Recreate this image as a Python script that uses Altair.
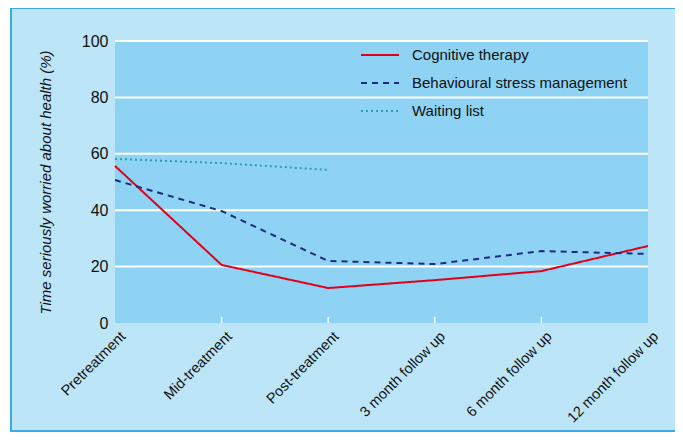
import altair as alt
import pandas as pd

timepoints = ["Pretreatment", "Mid-treatment", "Post-treatment",
              "3 month follow up", "6 month follow up", "12 month follow up"]
series_names = ["Cognitive therapy", "Behavioural stress management", "Waiting list"]
cognitive = [55.7, 20.6, 12.4, 15.2, 18.4, 27.3]
behavioural = [50.7, 39.7, 22.0, 20.9, 25.5, 24.5]
waiting = [58.2, 56.7, 54.3]
grid_values = [20, 40, 60, 80, 100]
tick_points = ["Mid-treatment", "Post-treatment", "3 month follow up", "6 month follow up"]

rows = []
for name, vals in zip(series_names, [cognitive, behavioural, waiting]):
    for t, v in zip(timepoints, vals):
        rows.append({"time": t, "value": v, "series": name})
df = pd.DataFrame(rows)

W, H = 533, 282
FONT = "Liberation Sans"

x_scale = alt.Scale(type="point", domain=timepoints, padding=0)
y_scale = alt.Scale(domain=[0, 100])

frame = alt.Chart(pd.DataFrame({"a": [0]})).mark_rect(
    fill="#bde5f8", stroke="#39a9e8", strokeWidth=2
).encode(x=alt.value(-104), x2=alt.value(563), y=alt.value(-33), y2=alt.value(390))

plotbg = alt.Chart(pd.DataFrame({"a": [0]})).mark_rect(fill="#8fd3f4").encode(
    x=alt.value(0), x2=alt.value(W), y=alt.value(0), y2=alt.value(H))

grid = alt.Chart(pd.DataFrame({"g": grid_values})).mark_rule(
    color="white", strokeWidth=2
).encode(y=alt.Y("g:Q", scale=y_scale), x=alt.value(0), x2=alt.value(W))

ticks = alt.Chart(pd.DataFrame({"time": tick_points})).mark_rule(
    color="white", strokeWidth=1.5
).encode(x=alt.X("time:N", scale=x_scale), y=alt.value(H - 6), y2=alt.value(H))

legend_opts = dict(title=None, orient="none", legendX=245, legendY=5,
                   symbolType="stroke", symbolSize=1444, symbolStrokeWidth=2,
                   labelFontSize=15, labelFont=FONT, labelColor="#111",
                   rowPadding=10, clipHeight=18, labelOffset=12, labelLimit=400)

lines = alt.Chart(df).mark_line(strokeWidth=2).encode(
    x=alt.X("time:N", scale=x_scale, sort=timepoints,
            axis=alt.Axis(title=None, labelAngle=-45, labelAlign="right",
                          labelBaseline="top", labelFontSize=14.5, labelFont=FONT,
                          labelColor="#111", domain=False, ticks=False, grid=False,
                          labelPadding=6, labelOffset=3, zindex=1)),
    y=alt.Y("value:Q", scale=y_scale,
            axis=alt.Axis(title="Time seriously worried about health (%)",
                          titleFont=FONT, titleFontStyle="italic",
                          titleFontWeight="normal", titleFontSize=15, titleColor="#111",
                          titlePadding=28,
                          values=[0, 20, 40, 60, 80, 100], labelFontSize=16,
                          labelFont=FONT, labelColor="#111", domain=False,
                          ticks=False, grid=False, labelPadding=7, zindex=1)),
    color=alt.Color("series:N",
                    scale=alt.Scale(domain=series_names,
                                    range=["#e2001a", "#1f2a80", "#2aa0b0"]),
                    legend=alt.Legend(**legend_opts)),
    strokeDash=alt.StrokeDash("series:N",
                              scale=alt.Scale(domain=series_names,
                                              range=[[1, 0], [6, 5], [2, 3]]),
                              legend=alt.Legend(**legend_opts)),
)

chart = alt.layer(frame, plotbg, grid, ticks, lines).properties(
    width=W, height=H,
    autosize=alt.AutoSizeParams(type="none"),
    padding={"left": 107, "top": 33, "right": 27, "bottom": 109},
    background="white",
).configure_view(stroke=None, fill=None)

chart.save("out.html", embed_options={"renderer": "svg", "actions": False})
